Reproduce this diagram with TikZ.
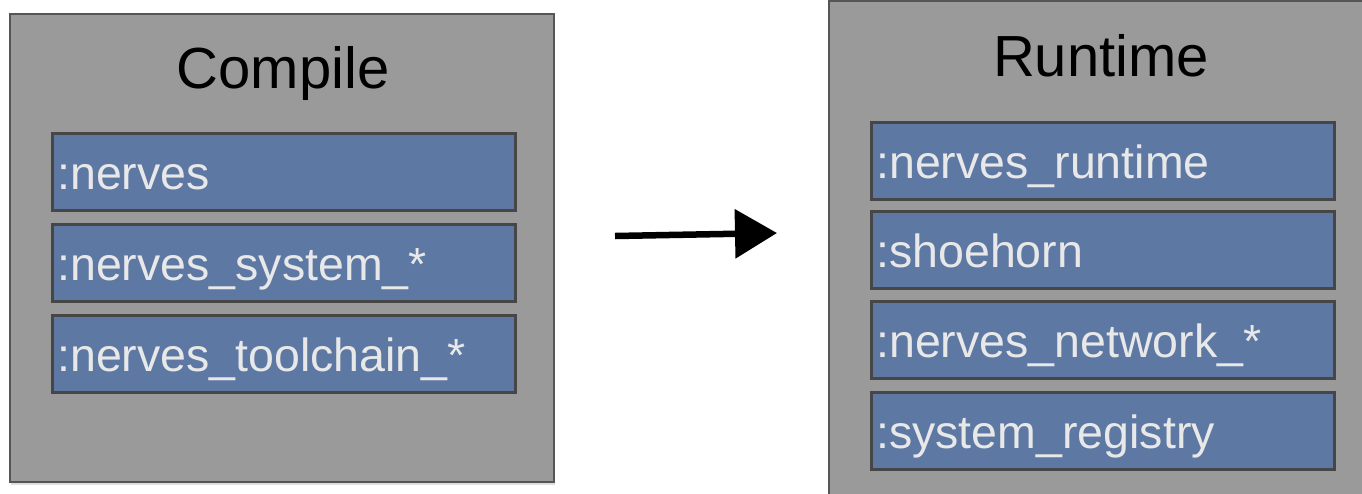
\documentclass[tikz,border=0pt]{standalone}
\usepackage{fontspec}
\setmainfont{Liberation Sans}
\usetikzlibrary{arrows.meta,shadows}
\definecolor{outerfill}{HTML}{9A9A9A}
\definecolor{outerdraw}{HTML}{555555}
\definecolor{innerfill}{HTML}{5D78A3}
\definecolor{innerdraw}{HTML}{464646}
\definecolor{innertext}{HTML}{E8E8E8}
\tikzset{
  outerbox/.style={draw=outerdraw, fill=outerfill, line width=2.5pt,
    drop shadow={shadow xshift=1pt, shadow yshift=-3pt, opacity=0.25}},
  titletext/.style={font=\fontsize{58}{64}\selectfont, text=black, inner sep=0pt, anchor=base},
  itembox/.style={draw=innerdraw, fill=innerfill, line width=2.5pt, anchor=north west,
    minimum width=463pt, minimum height=77pt, inner xsep=5pt, inner ysep=0pt,
    text width=453pt, align=left, text height=40pt, text depth=4pt,
    font=\fontsize{46.5}{50}\selectfont, text=innertext},
  sketcharrow/.style={line width=6.5pt, black, -{Triangle[length=42pt,width=48pt]}}
}
\begin{document}
\begin{tikzpicture}[x=1pt, y=-1pt]
\useasboundingbox (0,0) rectangle (1362,493);
\clip (0,0) rectangle (1362,493);
% Compile box
\draw[outerbox] (10,14) rectangle (554,482);
\node[titletext] (ctitle) at (283,88) {Compile};
\node[itembox] (c1) at (51,132) {:nerves};
\node[itembox] (c2) at (51,223) {:nerves\_system\_*};
\node[itembox] (c3) at (51,314) {:nerves\_toolchain\_*};
% Runtime box
\draw[outerbox] (829,1) rectangle (1372,505);
\node[titletext] (rtitle) at (1101,76) {Runtime};
\node[itembox] (r1) at (870,121) {:nerves\_runtime};
\node[itembox] (r2) at (870,210) {:shoehorn};
\node[itembox] (r3) at (870,300) {:nerves\_network\_*};
\node[itembox] (r4) at (870,391) {:system\_registry};
% arrow
\coordinate (as) at (615,236);
\coordinate (ae) at (777,233);
\draw[sketcharrow] (as) -- (ae);
\end{tikzpicture}
\end{document}
